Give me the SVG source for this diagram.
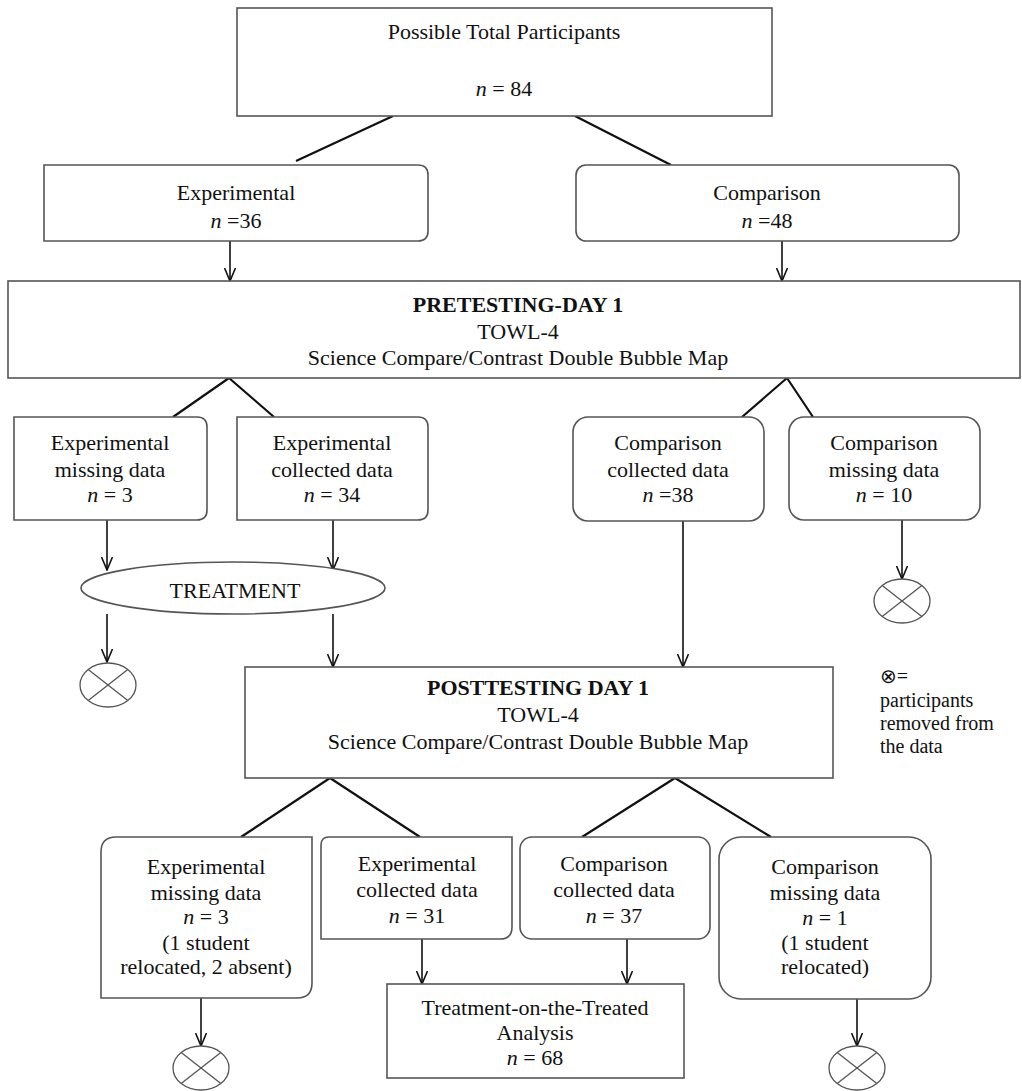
<svg xmlns="http://www.w3.org/2000/svg" width="1022" height="1091" viewBox="0 0 1022 1091">
<style>
text{font-family:"Liberation Serif","Times New Roman",serif;font-size:22px;fill:#111;text-anchor:middle}
.b{font-weight:bold}
.i{font-style:italic}
.box{fill:#fff;stroke:#555;stroke-width:1.6}
.ln{stroke:#111;stroke-width:2.2;fill:none}
.ar{stroke:#111;stroke-width:1.6;fill:none;marker-end:url(#ah)}
.x{fill:#fff;stroke:#555;stroke-width:1.3}
.leg{font-size:20px;text-anchor:start}
</style>
<defs>
<marker id="ah" viewBox="0 0 14 12" refX="13" refY="6" markerWidth="14" markerHeight="12" markerUnits="userSpaceOnUse" orient="auto">
<path d="M0,0.5 L13,6 L0,11.5" fill="none" stroke="#111" stroke-width="1.6"/>
</marker>
<g id="xc">
<ellipse cx="0" cy="0" rx="28" ry="22" class="x"/>
<path d="M-19.8,-15.6 L19.8,15.6 M-19.8,15.6 L19.8,-15.6" stroke="#555" stroke-width="1.3"/>
</g>
</defs>
<rect width="1022" height="1091" fill="#fff"/>

<g id="connectors">
<path class="ln" d="M393,116 L296,161 M575,116 L671,165"/>
<path class="ar" d="M230,241 V281"/>
<path class="ar" d="M782,241 V281"/>
<path class="ln" d="M229,378 L173,417 M229,378 L274,417 M787,378 L742,417 M787,378 L813,417"/>
<path class="ar" d="M107,520 V570"/>
<path class="ar" d="M333,520 V570"/>
<path class="ar" d="M107,614 V662"/>
<path class="ar" d="M333,614 V667"/>
<path class="ar" d="M683,521 V667"/>
<path class="ar" d="M902,520 V579"/>
<path class="ln" d="M330,778 L241,837 M330,778 L420,837 M675,778 L582,837 M675,778 L771,837"/>
<path class="ar" d="M422,939 V984"/>
<path class="ar" d="M627,939 V984"/>
<path class="ar" d="M201,998 V1046"/>
<path class="ar" d="M857,999 V1046"/>
</g>

<g id="total">
<rect class="box" x="237" y="8" width="535" height="108"/>
<text x="504" y="39">Possible Total Participants</text>
<text x="504" y="96"><tspan class="i">n</tspan> = 84</text>
</g>

<g id="experimental">
<path class="box" d="M44,165 H418 Q428,165 428,175 V231 Q428,241 418,241 H44 Z"/>
<text x="236" y="200">Experimental</text>
<text x="236" y="228"><tspan class="i">n</tspan> =36</text>
</g>

<g id="comparison">
<rect class="box" x="576" y="165" width="383" height="76" rx="10"/>
<text x="767" y="200">Comparison</text>
<text x="767" y="228"><tspan class="i">n</tspan> =48</text>
</g>

<g id="pretesting">
<rect class="box" x="8" y="281" width="1012" height="97"/>
<text class="b" x="518" y="312">PRETESTING-DAY 1</text>
<text x="518" y="339">TOWL-4</text>
<text x="518" y="365">Science Compare/Contrast Double Bubble Map</text>
</g>

<g id="pre-exp-missing">
<path class="box" d="M14,417 H197 Q207,417 207,427 V510 Q207,520 197,520 H14 Z"/>
<text x="110" y="450">Experimental</text>
<text x="110" y="477">missing data</text>
<text x="110" y="502"><tspan class="i">n</tspan> = 3</text>
</g>

<g id="pre-exp-collected">
<path class="box" d="M237,417 H418 Q428,417 428,427 V510 Q428,520 418,520 H237 Z"/>
<text x="332" y="450">Experimental</text>
<text x="332" y="477">collected data</text>
<text x="332" y="502"><tspan class="i">n</tspan> = 34</text>
</g>

<g id="pre-comp-collected">
<rect class="box" x="573" y="417" width="191" height="104" rx="15"/>
<text x="668" y="450">Comparison</text>
<text x="668" y="477">collected data</text>
<text x="668" y="502"><tspan class="i">n</tspan> =38</text>
</g>

<g id="pre-comp-missing">
<rect class="box" x="789" y="417" width="191" height="103" rx="15"/>
<text x="884" y="450">Comparison</text>
<text x="884" y="477">missing data</text>
<text x="884" y="502"><tspan class="i">n</tspan> = 10</text>
</g>

<g id="treatment">
<ellipse class="box" cx="233" cy="588" rx="152" ry="26"/>
<text x="235" y="598">TREATMENT</text>
</g>

<g id="removed-1"><use href="#xc" x="108" y="685"/></g>
<g id="removed-2"><use href="#xc" x="902" y="601"/></g>

<g id="posttesting">
<rect class="box" x="245" y="667" width="588" height="111"/>
<text class="b" x="538" y="695">POSTTESTING DAY 1</text>
<text x="538" y="722">TOWL-4</text>
<text x="538" y="749">Science Compare/Contrast Double Bubble Map</text>
</g>

<g id="legend">
<text class="leg" x="880" y="683"><tspan font-family="DejaVu Sans" font-size="20">⊗</tspan>=</text>
<text class="leg" x="880" y="707">participants</text>
<text class="leg" x="880" y="730">removed from</text>
<text class="leg" x="880" y="753">the data</text>
</g>

<g id="post-exp-missing">
<path class="box" d="M116,837 H312 V983 Q312,998 297,998 H101 V852 Q101,837 116,837 Z"/>
<text x="206" y="874">Experimental</text>
<text x="206" y="900">missing data</text>
<text x="206" y="924"><tspan class="i">n</tspan> = 3</text>
<text x="206" y="950">(1 student</text>
<text x="206" y="974">relocated, 2 absent)</text>
</g>

<g id="post-exp-collected">
<path class="box" d="M329,837 H512 V927 Q512,939 500,939 H321 V845 Q321,837 329,837 Z"/>
<text x="417" y="871">Experimental</text>
<text x="417" y="897">collected data</text>
<text x="417" y="923"><tspan class="i">n</tspan> = 31</text>
</g>

<g id="post-comp-collected">
<rect class="box" x="520" y="837" width="190" height="102" rx="12"/>
<text x="614" y="871">Comparison</text>
<text x="614" y="897">collected data</text>
<text x="614" y="923"><tspan class="i">n</tspan> = 37</text>
</g>

<g id="post-comp-missing">
<rect class="box" x="719" y="837" width="212" height="162" rx="22"/>
<text x="825" y="874">Comparison</text>
<text x="825" y="900">missing data</text>
<text x="825" y="925"><tspan class="i">n</tspan> = 1</text>
<text x="825" y="950">(1 student</text>
<text x="825" y="974">relocated)</text>
</g>

<g id="tot-analysis">
<rect class="box" x="387" y="984" width="297" height="94"/>
<text x="535" y="1015">Treatment-on-the-Treated</text>
<text x="535" y="1040">Analysis</text>
<text x="535" y="1065"><tspan class="i">n</tspan> = 68</text>
</g>

<g id="removed-3"><use href="#xc" x="201" y="1068"/></g>
<g id="removed-4"><use href="#xc" x="857" y="1068"/></g>
</svg>
